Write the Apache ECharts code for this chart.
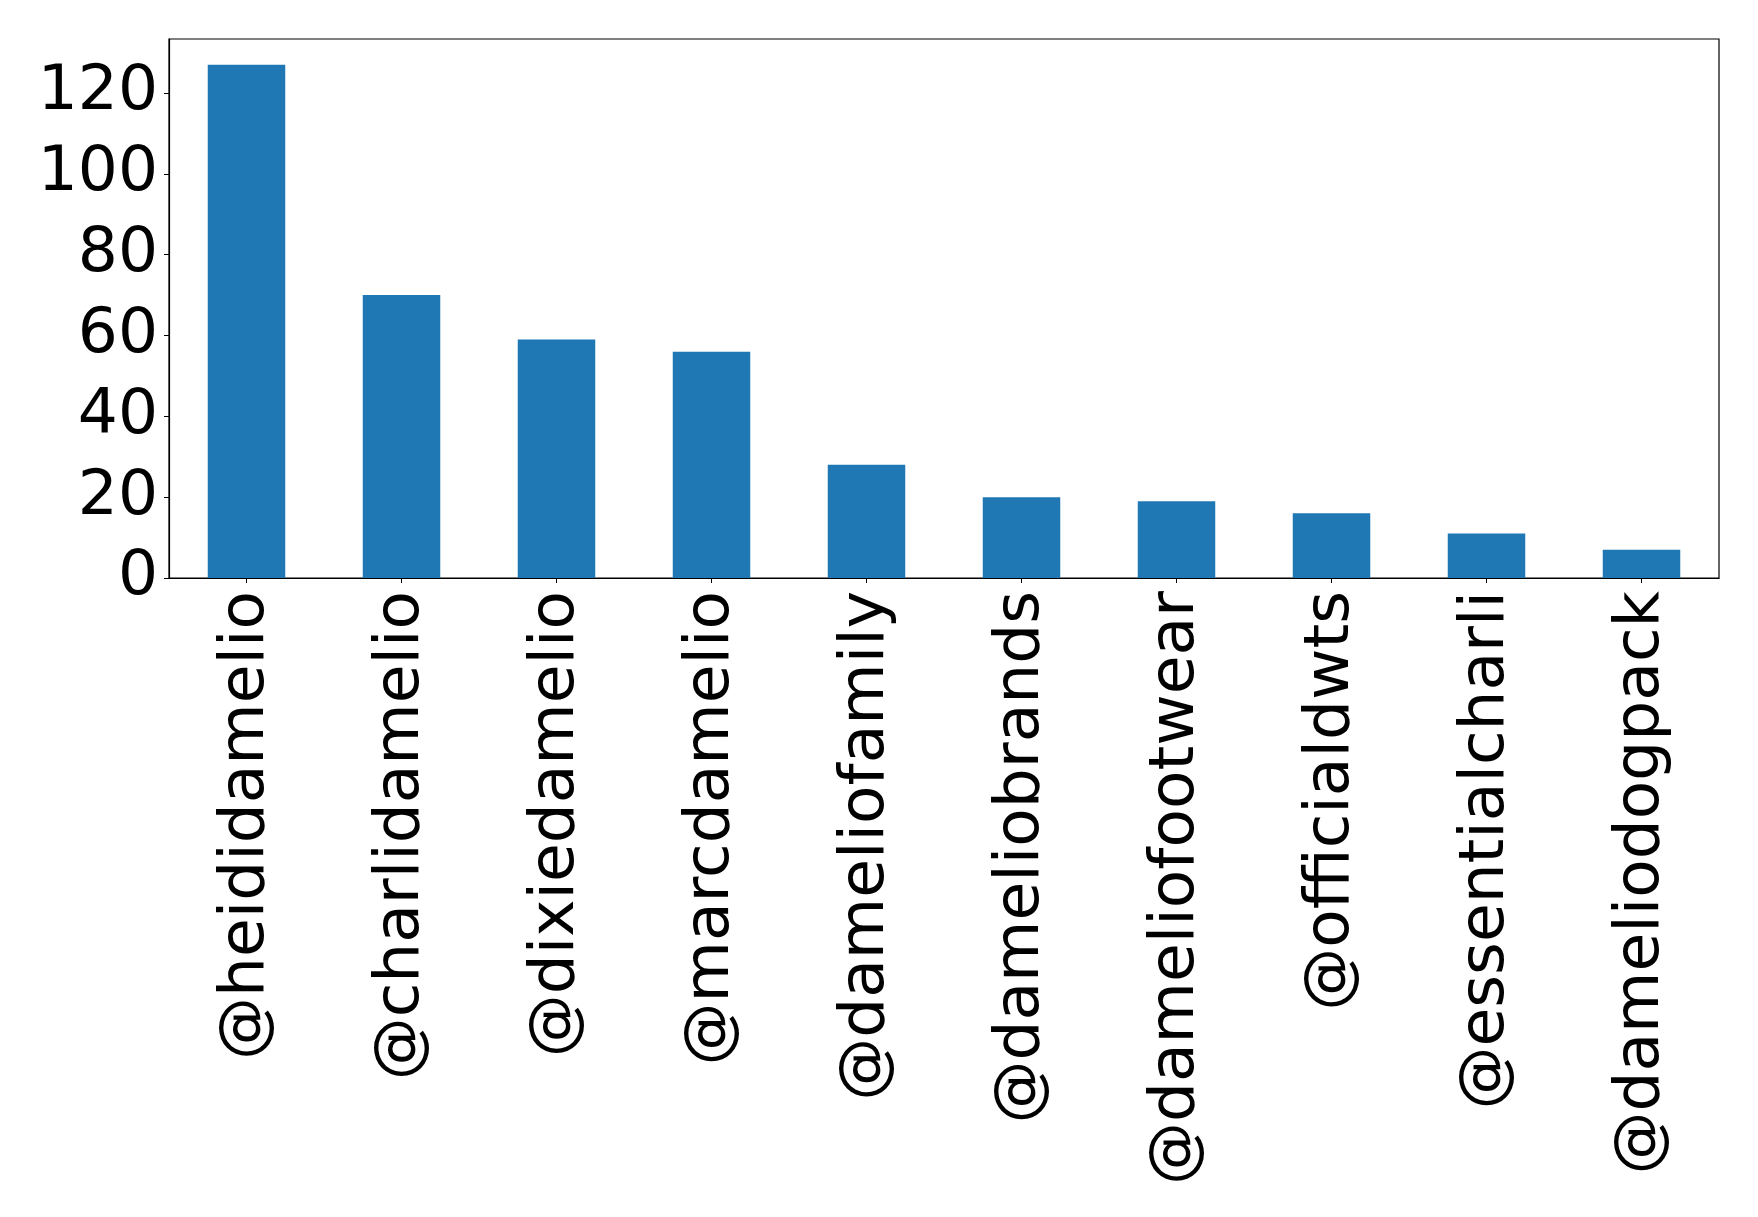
<!DOCTYPE html>
<html>
<head>
<meta charset="utf-8">
<script src="https://cdn.jsdelivr.net/npm/echarts@6/dist/echarts.min.js"></script>
<style>
html,body{margin:0;padding:0;background:#fff;}
#chart{width:1758px;height:1217px;}
</style>
</head>
<body>
<div id="chart"></div>
<script>
const categories = ['@heididamelio','@charlidamelio','@dixiedamelio','@marcdamelio','@dameliofamily','@dameliobrands','@dameliofootwear','@officialdwts','@essentialcharli','@dameliodogpack'];
const values = [127, 70, 59, 56, 28, 20, 19, 16, 11, 7];
const yTicks = [0, 20, 40, 60, 80, 100, 120];

const chart = echarts.init(document.getElementById('chart'), null, {renderer: 'canvas'});
const font = 'DejaVu Sans';
chart.setOption({
  animation: false,
  backgroundColor: '#ffffff',
  grid: {left: 169, right: 39, top: 39, bottom: 639, show: true, borderColor: '#000', borderWidth: 1.2, backgroundColor: 'transparent'},
  xAxis: {
    type: 'category',
    data: categories,
    boundaryGap: true,
    axisLine: {show: true, lineStyle: {color: '#000', width: 1.2}},
    axisTick: {show: true, alignWithLabel: true, length: 5, lineStyle: {color: '#000', width: 1}},
    axisLabel: {rotate: 90, fontSize: 63, fontFamily: font, color: '#000', margin: 13, interval: 0}
  },
  yAxis: {
    type: 'value',
    min: 0,
    max: 133.35,
    interval: 20,
    splitLine: {show: false},
    axisLine: {show: true, lineStyle: {color: '#000', width: 1.2}},
    axisTick: {show: true, length: 5, lineStyle: {color: '#000', width: 1}, customValues: yTicks},
    axisLabel: {fontSize: 63, fontFamily: font, color: '#000', margin: 11, customValues: yTicks}
  },
  series: [{
    type: 'bar',
    data: values,
    barWidth: '50%',
    itemStyle: {color: '#1f77b4'}
  }]
});
</script>
</body>
</html>
